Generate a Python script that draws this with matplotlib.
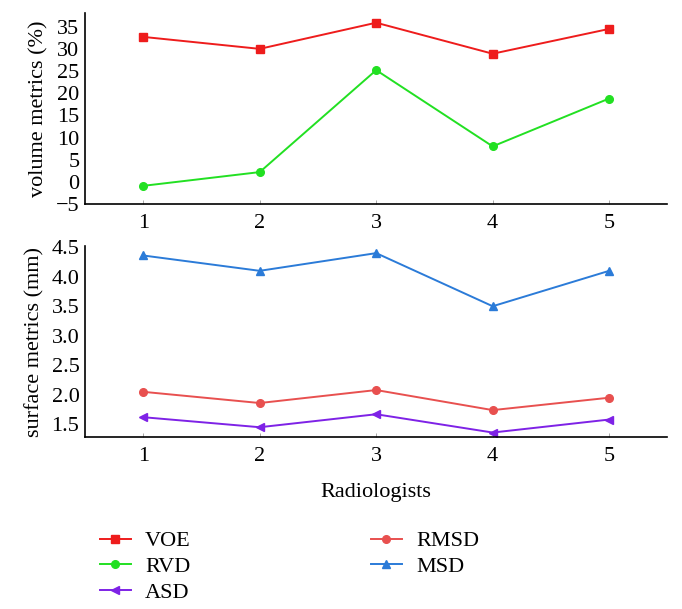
import matplotlib.pyplot as plt

plt.rcParams['font.family'] = ['Liberation Serif', 'DejaVu Serif']

radiologists = [1, 2, 3, 4, 5]

# volume metrics (%)
voe = [32.7, 30.0, 35.9, 28.9, 34.5]
rvd = [-0.9, 2.2, 25.2, 8.0, 18.8]

# surface metrics (mm)
asd = [1.62, 1.45, 1.67, 1.36, 1.58]
rmsd = [2.05, 1.86, 2.08, 1.74, 1.95]
msd = [4.36, 4.10, 4.40, 3.50, 4.10]

fs = 16
fig = plt.figure(figsize=(6.82, 6.09), dpi=100)
ax1 = fig.add_axes([0.1246, 0.665, 0.854, 0.313])
ax2 = fig.add_axes([0.1246, 0.282, 0.854, 0.314])

l_voe, = ax1.plot(radiologists, voe, color='#ee1c1c', marker='s', ms=5.5, lw=1.4, label='VOE')
l_rvd, = ax1.plot(radiologists, rvd, color='#22e022', marker='o', ms=5.5, lw=1.4, label='RVD')
ax1.set_ylim(-5, 38)
ax1.set_yticks(range(-5, 40, 5))
ax1.set_yticklabels(['\u22125' if v < 0 else str(v) for v in range(-5, 40, 5)])
ax1.set_ylabel('volume metrics (%)', fontsize=fs, labelpad=5)

l_asd, = ax2.plot(radiologists, asd, color='#7e22e6', marker='<', ms=5.5, lw=1.4, label='ASD')
l_rmsd, = ax2.plot(radiologists, rmsd, color='#e8504f', marker='o', ms=5.5, lw=1.4, label='RMSD')
l_msd, = ax2.plot(radiologists, msd, color='#2b7bd8', marker='^', ms=5.5, lw=1.4, label='MSD')
ax2.set_ylim(1.28, 4.52)
ax2.set_yticks([1.5, 2.0, 2.5, 3.0, 3.5, 4.0, 4.5])
ax2.set_yticklabels(['1.5', '2.0', '2.5', '3.0', '3.5', '4.0', '4.5'])
ax2.set_ylabel('surface metrics (mm)', fontsize=fs, labelpad=5)
ax2.set_xlabel('Radiologists', fontsize=fs, labelpad=12)

for ax in (ax1, ax2):
    ax.set_xlim(0.5, 5.5)
    ax.set_xticks(radiologists)
    ax.spines['top'].set_visible(False)
    ax.spines['right'].set_visible(False)
    ax.spines['left'].set_linewidth(1.2)
    ax.spines['bottom'].set_linewidth(1.2)
    ax.tick_params(axis='x', direction='in', length=3, width=0.6, color='#999999',
                   labelsize=fs, pad=7)
    ax.tick_params(axis='y', length=0, labelsize=fs, pad=4)

fig.legend([l_voe, l_rvd, l_asd, l_rmsd, l_msd],
           ['VOE', 'RVD', 'ASD', 'RMSD', 'MSD'],
           ncol=2, loc='upper left', bbox_to_anchor=(0.133, 0.143),
           frameon=False, fontsize=fs, handlelength=1.4, labelspacing=0.24,
           columnspacing=8.1, handletextpad=0.65, borderaxespad=0)

fig.savefig('out.png', dpi=100)
